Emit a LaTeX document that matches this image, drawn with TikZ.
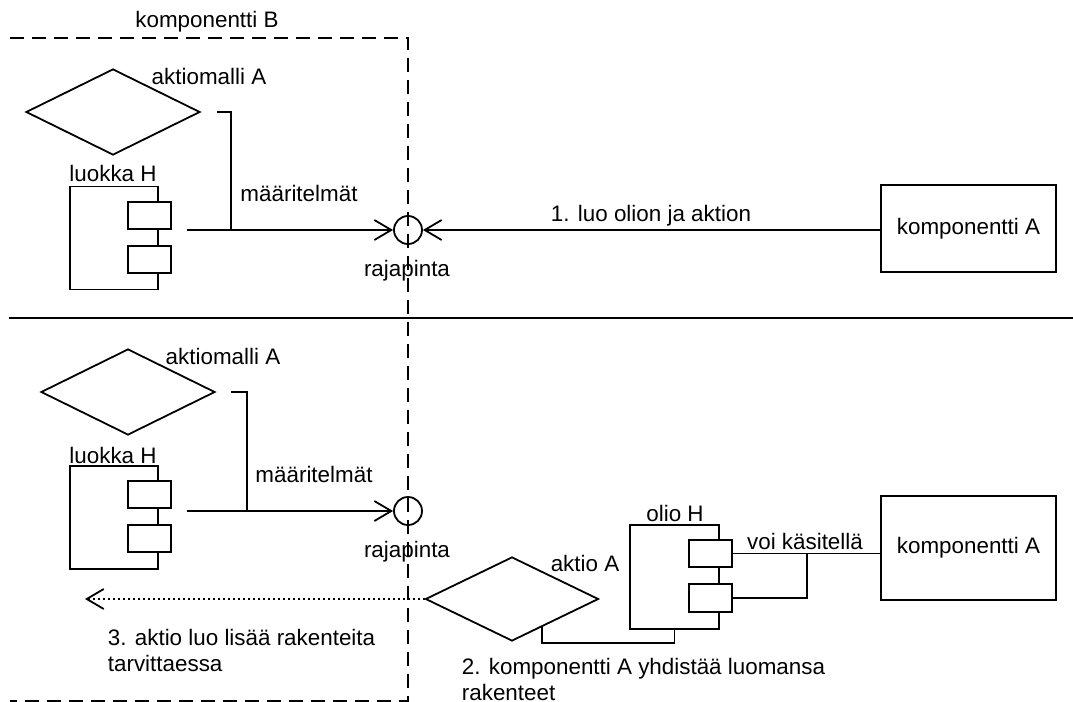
\documentclass[tikz,border=0pt]{standalone}
\usepackage{fontspec}
\setmainfont{Liberation Sans}
\usetikzlibrary{shapes.geometric,arrows.meta,calc}
\begin{document}
\begin{tikzpicture}[x=0.5pt,y=-0.5pt,
  line width=0.9pt,
  every node/.style={font=\fontsize{11.2}{13}\selectfont},
  lbl/.style={inner sep=0pt},
  diamondbox/.style={draw, diamond, inner sep=0pt, minimum width=87pt, minimum height=43pt},
  bodybox/.style={draw, rectangle, inner sep=0pt, minimum width=44pt, minimum height=51.5pt},
  portbox/.style={draw, rectangle, inner sep=0pt, minimum width=21.5pt, minimum height=13.5pt, fill=white},
  iface/.style={draw, circle, inner sep=0pt, minimum size=14pt},
  compbox/.style={draw, rectangle, inner sep=0pt, minimum width=87.5pt},
  boundary/.style={dash pattern=on 7pt off 4pt},
  openarrow/.style={-{Straight Barb[length=8.5pt,width=10pt]}}
]
\useasboundingbox (0,0) rectangle (1073,702);

% component B boundary (open on the left)
\coordinate (bTL) at (10,38);
\coordinate (bTR) at (408,38);
\coordinate (bBR) at (408,701);
\coordinate (bBL) at (10,701);
\draw[boundary] (bTL) -- (bTR) -- (bBR) -- (bBL);
\node[lbl] (compB) at (207,22) {komponentti B};

% ---------- upper part ----------
\node[diamondbox] (am1) at (113,112) {};
\node[lbl] (am1lbl) at (209,76) {aktiomalli A};
\node[bodybox] (lh1) at (114,238) {};
\node[portbox] (lh1p1) at (149.5,215.5) {};
\node[portbox] (lh1p2) at (149.5,259.5) {};
\node[lbl] (lh1lbl) at (113,173) {luokka H};
\node[iface] (ri1) at (408,230) {};
\node[lbl] (ri1lbl) at (407,271) {rajapinta};
\node[compbox, minimum height=43.5pt] (ka1) at (968.5,228.5) {komponentti A};

\coordinate (lh1out) at (187,230);
\coordinate (am1out) at (217,112);
\coordinate (j1) at (231,230);
\draw[openarrow] (lh1out) -- (ri1.west);
\draw (am1out) -| (j1);
\node[lbl] (def1) at (299,193) {määritelmät};
\draw[openarrow] (ka1.west |- ri1) -- (ri1.east);
\node[lbl] (step1) at (651,216) {1. luo olion ja aktion};

% separator
\coordinate (sepL) at (9,318);
\coordinate (sepR) at (1073,318);
\draw (sepL) -- (sepR);

% ---------- lower part ----------
\node[diamondbox] (am2) at (128,392) {};
\node[lbl] (am2lbl) at (223,356) {aktiomalli A};
\node[bodybox] (lh2) at (114,517.5) {};
\node[portbox] (lh2p1) at (149.5,494.5) {};
\node[portbox] (lh2p2) at (149.5,538.5) {};
\node[lbl] (lh2lbl) at (113,455) {luokka H};
\node[iface] (ri2) at (408,511) {};
\node[lbl] (ri2lbl) at (407,552) {rajapinta};

\coordinate (lh2out) at (187,511);
\coordinate (am2out) at (231,392);
\coordinate (j2) at (247,511);
\draw[openarrow] (lh2out) -- (ri2.west);
\draw (am2out) -| (j2);
\node[lbl] (def2) at (314,474) {määritelmät};

% action A and object H
\node[diamondbox, minimum width=86.5pt, minimum height=42pt] (aA) at (512,599) {};
\node[lbl] (aAlbl) at (585,563) {aktio A};
\node[bodybox, minimum width=44.5pt, minimum height=52pt] (oH) at (674.5,577) {};
\node[portbox] (oHp1) at (710.5,553.5) {};
\node[portbox, minimum height=14pt] (oHp2) at (710.5,598) {};
\node[lbl] (oHlbl) at (675,513) {olio H};
\node[compbox, minimum height=52pt] (ka2) at (968.5,548) {komponentti A};

\draw (oHp1.east) -- (ka2.west |- oHp1.east);
\coordinate (j3) at (807,554);
\draw (oHp2.east) -| (j3);
\node[lbl] (handle) at (805,541) {voi käsitellä};

\coordinate (aAlink) at ($(aA.east)!0.655!(aA.south)$);
\draw (aAlink) -- ++(0,16) -| (oH.south);
\node[lbl, align=left, anchor=west] (step2) at (461,679) {2. komponentti A yhdistää luomansa\\rakenteet};

\coordinate (more) at (85,599);
\draw[openarrow, dash pattern=on 1pt off 1.5pt] (aA.west) -- (more);
\node[lbl, align=left, anchor=west] (step3) at (107,650) {3. aktio luo lisää rakenteita\\tarvittaessa};
\end{tikzpicture}
\end{document}
